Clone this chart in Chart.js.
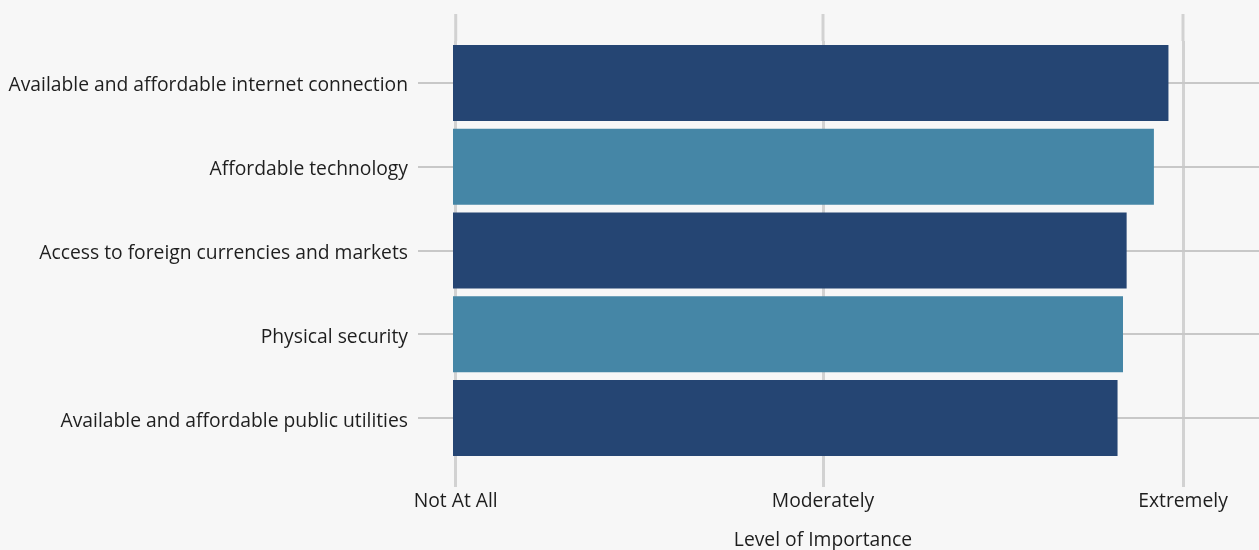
<!DOCTYPE html>
<html>
<head>
<meta charset="utf-8">
<script src="https://cdn.jsdelivr.net/npm/chart.js@4"></script>
<style>
  html, body { margin: 0; padding: 0; background: #f7f7f7; }
  #wrap { width: 1259px; height: 550px; position: relative; }
</style>
</head>
<body>
<div id="wrap"><canvas id="c"></canvas></div>
<script>
const categories = [
  "Available and affordable internet connection",
  "Affordable technology",
  "Access to foreign currencies and markets",
  "Physical security",
  "Available and affordable public utilities"
];
const values = [4.92, 4.84, 4.69, 4.67, 4.64];
const barColors = ["#254573", "#4586a6", "#254573", "#4586a6", "#254573"];
const tickValues = [1, 3.02, 5];
const tickLabels = ["Not At All", "Moderately", "Extremely"];
const axisTitle = "Level of Importance";

const FONT = "'Open Sans', sans-serif";
const FSIZE = 19.3;
const TEXT = '#1e1e1e';

const extras = {
  id: 'extras',
  beforeDatasetsDraw(chart) {
    const { ctx, chartArea, scales } = chart;
    ctx.save();
    ctx.strokeStyle = '#d2d2d2';
    ctx.lineWidth = 3;
    scales.x.ticks.forEach(t => {
      const x = scales.x.getPixelForValue(t.value);
      ctx.beginPath();
      ctx.moveTo(x, 14);
      ctx.lineTo(x, chartArea.top);
      ctx.stroke();
    });
    ctx.restore();
  },
  afterDraw(chart) {
    const { ctx, scales } = chart;
    const x = scales.x.getPixelForValue(tickValues[1]);
    ctx.save();
    ctx.fillStyle = TEXT;
    ctx.font = FSIZE + 'px ' + FONT;
    ctx.textAlign = 'center';
    ctx.textBaseline = 'middle';
    ctx.fillText(axisTitle, x, 541);
    ctx.restore();
  }
};

new Chart(document.getElementById('c'), {
  type: 'bar',
  data: {
    labels: categories,
    datasets: [{
      data: values,
      backgroundColor: barColors,
      borderWidth: 0,
      barPercentage: 1,
      categoryPercentage: 0.907
    }]
  },
  options: {
    indexAxis: 'y',
    responsive: true,
    maintainAspectRatio: false,
    animation: false,
    layout: { padding: { top: 41, right: 0, bottom: 0, left: 0 } },
    plugins: { legend: { display: false }, tooltip: { enabled: false } },
    scales: {
      x: {
        type: 'linear',
        min: 0.985,
        max: 5.418,
        afterBuildTicks(scale) { scale.ticks = tickValues.map(v => ({ value: v })); },
        afterFit(scale) { scale.height = 90; },
        border: { display: false },
        grid: { color: '#d2d2d2', lineWidth: 3, tickLength: 27, drawTicks: true },
        ticks: {
          padding: 3,
          color: TEXT,
          font: { family: FONT, size: FSIZE },
          callback: (v, i) => tickLabels[i] || ''
        }
      },
      y: {
        afterFit(scale) { scale.width = 453; },
        border: { display: false },
        grid: { color: '#c8c8c8', lineWidth: 2, tickLength: 35, offset: false },
        ticks: {
          padding: 10,
          labelOffset: 3,
          color: TEXT,
          font: { family: FONT, size: FSIZE }
        }
      }
    }
  },
  plugins: [extras]
});
</script>
</body>
</html>
